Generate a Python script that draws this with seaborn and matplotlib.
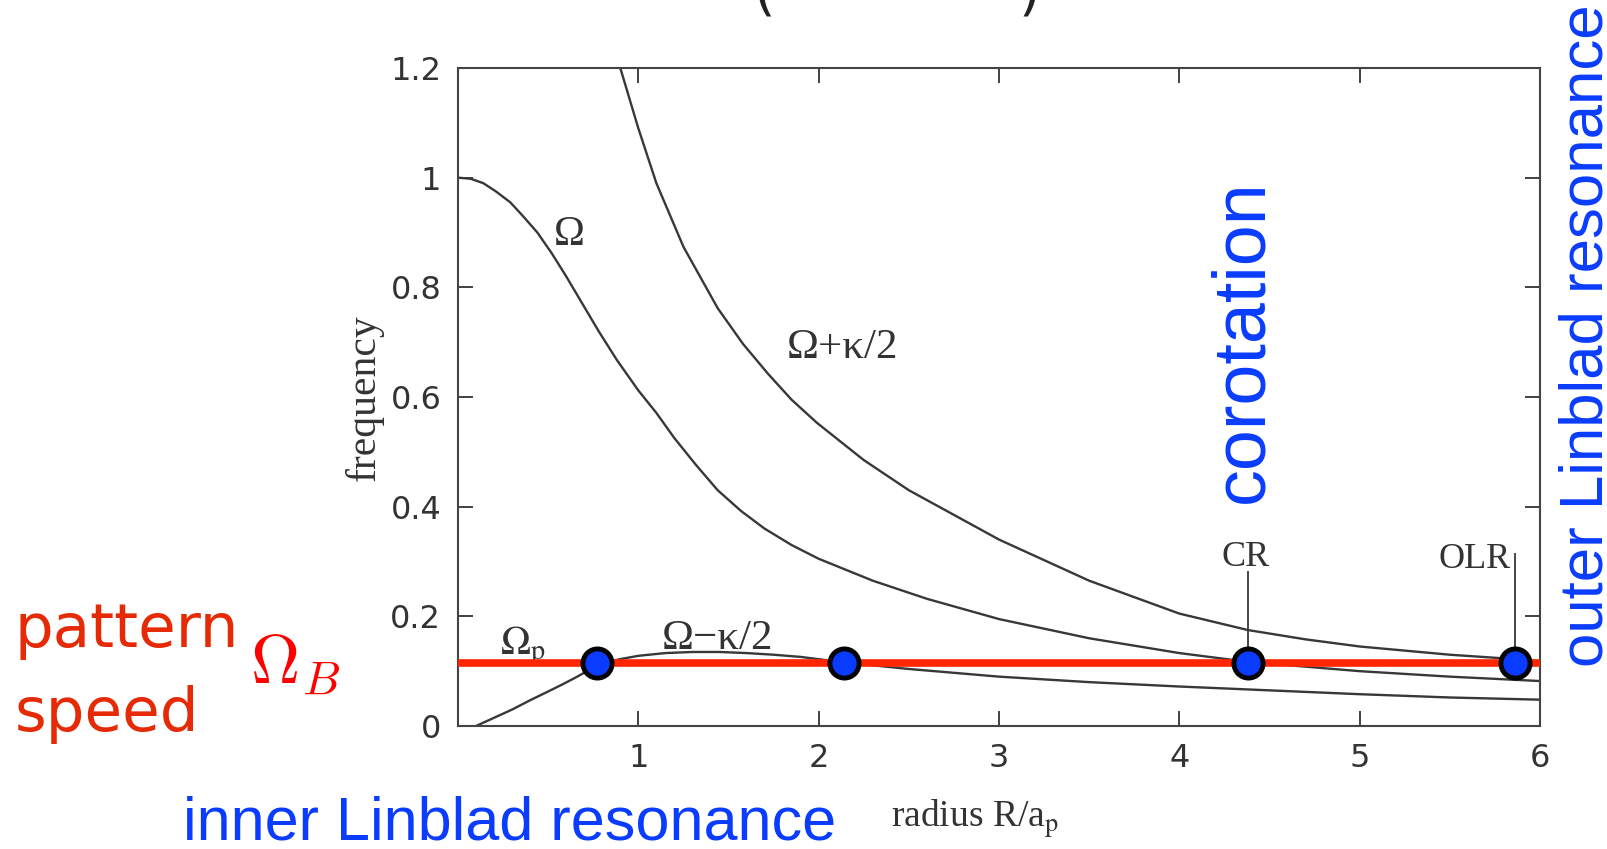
import matplotlib
matplotlib.use("Agg")
import numpy as np
import pandas as pd
import seaborn as sns
import matplotlib.pyplot as plt
from matplotlib import font_manager

# ---------------- data ----------------
omega_r = [0.0, 0.07, 0.14, 0.21, 0.29, 0.36, 0.44, 0.52, 0.60, 0.69, 0.78, 0.88, 1.00, 1.10, 1.20, 1.32, 1.44, 1.57, 1.70, 1.85, 2.00, 2.30, 2.60, 3.00, 3.50, 4.00, 4.38, 5.00, 5.50, 6.00]
omega_f = [1.0, 0.998, 0.99, 0.975, 0.955, 0.93, 0.90, 0.862, 0.82, 0.77, 0.72, 0.668, 0.612, 0.571, 0.525, 0.476, 0.43, 0.392, 0.36, 0.33, 0.305, 0.265, 0.232, 0.195, 0.16, 0.133, 0.117, 0.100, 0.090, 0.082]

plus_r = [0.90, 1.00, 1.10, 1.25, 1.44, 1.58, 1.72, 1.85, 1.99, 2.25, 2.50, 2.75, 3.00, 3.50, 4.00, 4.38, 4.70, 5.00, 5.50, 5.86, 6.00]
plus_f = [1.20, 1.09, 0.99, 0.874, 0.762, 0.697, 0.642, 0.595, 0.553, 0.485, 0.43, 0.385, 0.34, 0.265, 0.205, 0.175, 0.158, 0.145, 0.13, 0.122, 0.118]

minus_r = [0.10, 0.20, 0.30, 0.40, 0.50, 0.58, 0.65, 0.71, 0.77, 0.84, 0.90, 1.00, 1.15, 1.30, 1.45, 1.60, 1.75, 1.90, 2.14, 2.50, 3.00, 3.50, 4.00, 4.50, 5.00, 5.50, 6.00]
minus_f = [0.0, 0.015, 0.03, 0.047, 0.063, 0.076, 0.088, 0.099, 0.109, 0.117, 0.122, 0.128, 0.133, 0.135, 0.135, 0.133, 0.130, 0.126, 0.116, 0.104, 0.090, 0.080, 0.072, 0.065, 0.058, 0.052, 0.048]

pattern_speed = 0.115
resonance_r = [0.77, 2.14, 4.38, 5.86]
resonance_names = ["ILR", "ILR2", "CR", "OLR"]

xticks = [1, 2, 3, 4, 5, 6]
yticks = [0, 0.2, 0.4, 0.6, 0.8, 1.0, 1.2]
ytick_labels = ["0", "0.2", "0.4", "0.6", "0.8", "1", "1.2"]

# ---------------- style ----------------
sns.set_theme(style="ticks")
avail = {f.name for f in font_manager.fontManager.ttflist}
SANS = "Liberation Sans" if "Liberation Sans" in avail else "DejaVu Sans"
SERIF = "Liberation Serif" if "Liberation Serif" in avail else "DejaVu Serif"
plt.rcParams["font.family"] = ["DejaVu Sans"]

W, H = 1608, 849
fig = plt.figure(figsize=(W / 100, H / 100), dpi=100)
ax = fig.add_axes([458 / W, 1 - 726 / H, (1540 - 458) / W, (726 - 68) / H])
ax.set_facecolor("white")

def P(x, y):
    return x / W, 1 - y / H

curve_col = "#383838"
df_o = pd.DataFrame({"r": omega_r, "f": omega_f})
df_p = pd.DataFrame({"r": plus_r, "f": plus_f})
df_m = pd.DataFrame({"r": minus_r, "f": minus_f})
for d in (df_o, df_p, df_m):
    sns.lineplot(data=d, x="r", y="f", ax=ax, color=curve_col, lw=1.7, sort=False, estimator=None)

# leader lines for CR and OLR
ax.vlines(resonance_r[2], pattern_speed, 0.283, color=curve_col, lw=1.3)
ax.vlines(resonance_r[3], pattern_speed, 0.315, color=curve_col, lw=1.3)

# pattern speed line
ax.axhline(pattern_speed, color="#ff2600", lw=5.5, zorder=5)

# resonance points
df_res = pd.DataFrame({"r": resonance_r, "f": [pattern_speed] * 4, "name": resonance_names})
sns.scatterplot(data=df_res, x="r", y="f", ax=ax, s=440, color="#0a3cff",
                edgecolor="black", linewidth=3.5, zorder=6, legend=False, clip_on=False)

ax.set_xlim(0, 6)
ax.set_ylim(0, 1.2)
ax.set_xticks(xticks)
ax.set_yticks(yticks)
ax.set_yticklabels(ytick_labels)
ax.tick_params(direction="in", length=11, width=1.3, colors="#333333",
               top=True, right=True, labelsize=23, pad=12)
for lab in ax.get_xticklabels() + ax.get_yticklabels():
    lab.set_color("#333333")
for s in ax.spines.values():
    s.set_color("#444444")
    s.set_linewidth(1.5)
    s.set_visible(True)

ax.set_xlabel("")
ax.set_ylabel("")

# labels of the original figure (serif)
lab_kw = dict(family=SERIF, color="#333333", ha="center", va="center", math_fontfamily="stix")
ax.text(0.615, 0.895, "Ω", fontsize=30, **lab_kw)
ax.text(2.13, 0.69, "Ω+κ/2", fontsize=31, **lab_kw)
ax.text(1.44, 0.16, "Ω−κ/2", fontsize=31, **lab_kw)
ax.text(0.36, 0.145, r"$\Omega_{\mathrm{p}}$", fontsize=29, **lab_kw)
ax.text(4.37, 0.308, "CR", fontsize=26, **lab_kw)
ax.text(5.635, 0.303, "OLR", fontsize=26, **lab_kw)

fig.text(*P(364, 398), "frequency", family=SERIF, fontsize=30, color="#333333",
         rotation=90, ha="center", va="center")
fig.text(*P(975, 827), r"radius R/a$_{\mathrm{p}}$", family=SERIF, fontsize=27, color="#333333",
         ha="center", va="baseline", math_fontfamily="stix")

# annotations
red = "#e62a05"
blue = "#0a3cff"
fig.text(*P(15, 647), "pattern", family="DejaVu Sans", fontsize=44, color=red, ha="left", va="baseline")
fig.text(*P(15, 731), "speed", family="DejaVu Sans", fontsize=44, color=red, ha="left", va="baseline")
fig.text(*P(250, 683), r"$\Omega_B$", fontsize=49, color="#ff0000", ha="left", va="baseline",
         math_fontfamily="cm")
fig.text(*P(183, 839), "inner Linblad resonance", family=SANS, fontsize=44, color=blue,
         ha="left", va="baseline")
fig.text(*P(1262, 503), "corotation", family=SANS, fontsize=53, color=blue, rotation=90,
         rotation_mode="anchor", ha="left", va="baseline")
fig.text(*P(1603, 667), "outer Linblad resonance", family=SANS, fontsize=44.5, color=blue, rotation=90,
         rotation_mode="anchor", ha="left", va="baseline")

# fragment of a cropped title at the top
fig.text(*P(764, 20), "(", fontsize=40, color="#222222", ha="center", va="bottom")
fig.text(*P(1029, 20), ")", fontsize=40, color="#222222", ha="center", va="bottom")

fig.savefig("out.png", dpi=100, facecolor="white")
